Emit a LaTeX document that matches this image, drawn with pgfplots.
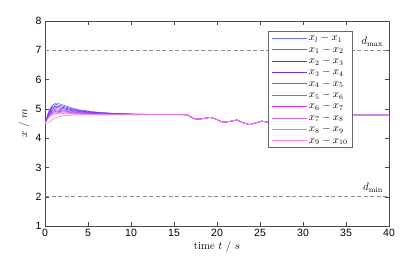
\documentclass[border=0pt]{standalone}
\usepackage{fontspec}
\newfontfamily\tickfont{Liberation Sans}
\usepackage{pgfplots}
\pgfplotsset{compat=1.18}
\definecolor{c0}{RGB}{110,110,255}
\definecolor{c1}{RGB}{105,90,245}
\definecolor{c2}{RGB}{100,35,235}
\definecolor{c3}{RGB}{115,50,225}
\definecolor{c4}{RGB}{155,70,240}
\definecolor{c5}{RGB}{170,85,230}
\definecolor{c6}{RGB}{210,45,240}
\definecolor{c7}{RGB}{225,110,232}
\definecolor{c8}{RGB}{238,110,240}
\definecolor{c9}{RGB}{248,125,240}
\begin{document}
\begin{tikzpicture}
\begin{axis}[
  scale only axis,
  width=344pt, height=205pt,
  xmin=0, xmax=40, ymin=1, ymax=8,
  xtick={0,5,...,40}, ytick={1,2,...,8},
  tick align=inside,
  axis line style={black!70},
  tick style={black!70},
  major tick length=4pt,
  ticklabel style={font=\tickfont\fontsize{10.5}{12}\selectfont},
  /pgf/number format/assume math mode=true,
  xlabel={time $t$ / $s$},
  ylabel={$x$ / $m$},
  label style={font=\fontsize{11}{13}\selectfont},
  xlabel style={yshift=3pt},
  ylabel style={yshift=-1pt},
  legend cell align=left,
  legend style={at={(0.895,0.951)}, anchor=north east, font=\fontsize{10.5}{12}\selectfont, draw=black!60, row sep=-0.5pt, inner xsep=3pt, inner ysep=1pt},
  legend image code/.code={\draw[#1] (0pt,0pt) -- (35pt,0pt);},
  every axis plot/.append style={line width=0.6pt},
]
\addplot[black!45, dashed, dash pattern=on 4pt off 2.5pt, forget plot] coordinates {(0,7) (40,7)};
\addplot[black!45, dashed, dash pattern=on 4pt off 2.5pt, forget plot] coordinates {(0,2) (40,2)};
\node[anchor=south east, font=\fontsize{11}{13}\selectfont] at (axis cs:39.7,7.02) {$d_{\max}$};
\node[anchor=south east, font=\fontsize{11}{13}\selectfont] at (axis cs:39.7,2.02) {$d_{\min}$};

\addplot[c0] coordinates {(0,4.5) (0.4,4.885) (0.8,5.116) (1.3,5.2) (2,5.14) (3,5.04) (4,4.968) (6,4.888) (8,4.848) (10,4.824) (13,4.808) (16.5,4.8) (17,4.72) (17.5,4.65) (18.2,4.66) (19.2,4.71) (19.8,4.66) (20.7,4.54) (21.5,4.57) (22.3,4.62) (23,4.53) (23.8,4.46) (24.5,4.52) (25.2,4.58) (26,4.54) (27,4.5) (28,4.6) (30,4.7) (33,4.78) (35,4.78) (40,4.78)};
\addlegendentry{$x_l - x_1$}
\addplot[c1] coordinates {(0,4.5) (0.4,4.858) (0.8,5.072) (1.3,5.15) (2,5.098) (3,5.01) (4,4.947) (6,4.877) (8,4.842) (10,4.821) (13,4.807) (16.5,4.8) (17,4.72) (17.5,4.65) (18.2,4.66) (19.2,4.71) (19.8,4.66) (20.7,4.54) (21.5,4.57) (22.3,4.62) (23,4.53) (23.8,4.46) (24.5,4.52) (25.2,4.58) (26,4.54) (27,4.5) (28,4.6) (30,4.7) (33,4.78) (35,4.78) (40,4.78)};
\addlegendentry{$x_1 - x_2$}
\addplot[c2] coordinates {(0,4.5) (0.4,4.83) (0.8,5.028) (1.3,5.1) (2,5.055) (3,4.98) (4,4.926) (6,4.866) (8,4.836) (10,4.818) (13,4.806) (16.5,4.8) (17,4.72) (17.5,4.65) (18.2,4.66) (19.2,4.71) (19.8,4.66) (20.7,4.54) (21.5,4.57) (22.3,4.62) (23,4.53) (23.8,4.46) (24.5,4.52) (25.2,4.58) (26,4.54) (27,4.5) (28,4.6) (30,4.7) (33,4.78) (35,4.78) (40,4.78)};
\addlegendentry{$x_2 - x_3$}
\addplot[c3] coordinates {(0,4.5) (0.4,4.803) (0.8,4.984) (1.3,5.05) (2,5.013) (3,4.95) (4,4.905) (6,4.855) (8,4.83) (10,4.815) (13,4.805) (16.5,4.8) (17,4.72) (17.5,4.65) (18.2,4.66) (19.2,4.71) (19.8,4.66) (20.7,4.54) (21.5,4.57) (22.3,4.62) (23,4.53) (23.8,4.46) (24.5,4.52) (25.2,4.58) (26,4.54) (27,4.5) (28,4.6) (30,4.7) (33,4.78) (35,4.78) (40,4.78)};
\addlegendentry{$x_3 - x_4$}
\addplot[c4] coordinates {(0,4.5) (0.4,4.775) (0.8,4.94) (1.3,5.0) (2,4.97) (3,4.92) (4,4.884) (6,4.844) (8,4.824) (10,4.812) (13,4.804) (16.5,4.8) (17,4.72) (17.5,4.65) (18.2,4.66) (19.2,4.71) (19.8,4.66) (20.7,4.54) (21.5,4.57) (22.3,4.62) (23,4.53) (23.8,4.46) (24.5,4.52) (25.2,4.58) (26,4.54) (27,4.5) (28,4.6) (30,4.7) (33,4.78) (35,4.78) (40,4.78)};
\addlegendentry{$x_4 - x_5$}
\addplot[c5] coordinates {(0,4.5) (0.4,4.753) (0.8,4.905) (1.3,4.96) (2,4.936) (3,4.896) (4,4.867) (6,4.835) (8,4.819) (10,4.81) (13,4.803) (16.5,4.8) (17,4.72) (17.5,4.65) (18.2,4.66) (19.2,4.71) (19.8,4.66) (20.7,4.54) (21.5,4.57) (22.3,4.62) (23,4.53) (23.8,4.46) (24.5,4.52) (25.2,4.58) (26,4.54) (27,4.5) (28,4.6) (30,4.7) (33,4.78) (35,4.78) (40,4.78)};
\addlegendentry{$x_5 - x_6$}
\addplot[c6] coordinates {(0,4.5) (0.4,4.731) (0.8,4.87) (1.3,4.92) (2,4.902) (3,4.872) (4,4.85) (6,4.826) (8,4.814) (10,4.807) (13,4.802) (16.5,4.8) (17,4.72) (17.5,4.65) (18.2,4.66) (19.2,4.71) (19.8,4.66) (20.7,4.54) (21.5,4.57) (22.3,4.62) (23,4.53) (23.8,4.46) (24.5,4.52) (25.2,4.58) (26,4.54) (27,4.5) (28,4.6) (30,4.7) (33,4.78) (35,4.78) (40,4.78)};
\addlegendentry{$x_6 - x_7$}
\addplot[c7] coordinates {(0,4.5) (0.4,4.709) (0.8,4.834) (1.3,4.88) (2,4.868) (3,4.848) (4,4.834) (6,4.818) (8,4.81) (10,4.805) (13,4.802) (16.5,4.8) (17,4.72) (17.5,4.65) (18.2,4.66) (19.2,4.71) (19.8,4.66) (20.7,4.54) (21.5,4.57) (22.3,4.62) (23,4.53) (23.8,4.46) (24.5,4.52) (25.2,4.58) (26,4.54) (27,4.5) (28,4.6) (30,4.7) (33,4.78) (35,4.78) (40,4.78)};
\addlegendentry{$x_7 - x_8$}
\addplot[c8] coordinates {(0,4.5) (0.4,4.687) (0.8,4.799) (1.3,4.84) (2,4.834) (3,4.824) (4,4.817) (6,4.809) (8,4.805) (10,4.802) (13,4.801) (16.5,4.8) (17,4.72) (17.5,4.65) (18.2,4.66) (19.2,4.71) (19.8,4.66) (20.7,4.54) (21.5,4.57) (22.3,4.62) (23,4.53) (23.8,4.46) (24.5,4.52) (25.2,4.58) (26,4.54) (27,4.5) (28,4.6) (30,4.7) (33,4.78) (35,4.78) (40,4.78)};
\addlegendentry{$x_8 - x_9$}
\addplot[c9] coordinates {(0,4.5) (0.4,4.52) (0.8,4.62) (1.3,4.7) (2,4.76) (3,4.785) (4,4.793) (6,4.798) (8,4.8) (10,4.8) (13,4.8) (16.5,4.8) (17,4.72) (17.5,4.65) (18.2,4.66) (19.2,4.71) (19.8,4.66) (20.7,4.54) (21.5,4.57) (22.3,4.62) (23,4.53) (23.8,4.46) (24.5,4.52) (25.2,4.58) (26,4.54) (27,4.5) (28,4.6) (30,4.7) (33,4.78) (35,4.78) (40,4.78)};
\addlegendentry{$x_9 - x_{10}$}
\end{axis}
\path (current axis.south west) ++(-45pt,-40pt) coordinate (bl);
\path (current axis.north east) ++(26pt,21pt) coordinate (tr);
\path (bl) rectangle (tr);
\end{tikzpicture}
\end{document}
